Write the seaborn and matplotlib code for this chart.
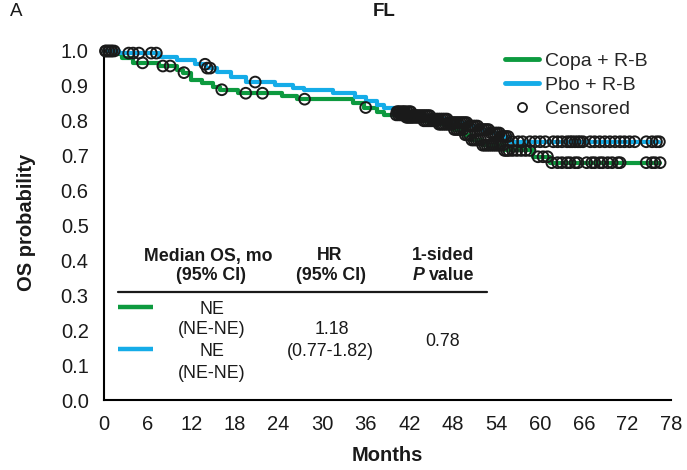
import numpy as np
import pandas as pd
import matplotlib
matplotlib.use("Agg")
import matplotlib.pyplot as plt
import seaborn as sns
from matplotlib.lines import Line2D

# Kaplan-Meier step data: event times (months) and survival after each drop
copa_times = [0, 1.5, 2.5, 4.0, 7.5, 10.0, 10.8, 12.0, 13.5, 15.0, 16.0, 18.5,
              24.5, 26.5, 34.3, 35.8, 37.5, 38.5, 41.5, 44.0, 46.0, 48.0, 49.5,
              50.5, 52.0, 55.0, 59.0, 61.3]
copa_surv = [1.0, 0.99, 0.98, 0.966, 0.957, 0.945, 0.938, 0.918, 0.908, 0.898,
             0.889, 0.879, 0.87, 0.862, 0.851, 0.838, 0.825, 0.817, 0.81, 0.80,
             0.79, 0.775, 0.76, 0.745, 0.73, 0.715, 0.697, 0.68]

pbo_times = [0, 2.0, 7.5, 10.0, 12.5, 14.0, 15.5, 17.5, 19.5, 23.5, 26.0, 27.5,
             31.5, 34.5, 36.0, 37.5, 38.5, 40.0, 42.5, 45.0, 47.5, 50.0, 51.5,
             53.0, 54.5, 55.8]
pbo_surv = [1.0, 0.994, 0.983, 0.974, 0.962, 0.951, 0.94, 0.926, 0.911, 0.903,
            0.894, 0.888, 0.879, 0.868, 0.856, 0.845, 0.837, 0.826, 0.815,
            0.805, 0.795, 0.785, 0.775, 0.765, 0.755, 0.74]

# Censoring times (months)
copa_censored = [0.3, 0.7, 1.1, 5.3, 8.1, 9.1, 11.0, 16.2, 19.5, 21.8, 27.6, 36.0,
                 40.2, 40.5, 40.8, 41.0, 41.2, 41.4, 41.6, 41.8, 42.0, 42.2, 42.4,
                 42.6, 42.9, 43.1, 43.4, 43.7, 44.0, 44.3, 44.6, 44.9, 45.2, 45.5,
                 45.8, 46.1, 46.4, 46.7, 47.0, 47.3, 47.6, 47.9, 48.2, 48.5, 48.8,
                 49.1, 49.4, 49.7, 50.0, 50.3, 50.6, 50.9, 51.2, 51.5, 51.8, 52.1,
                 52.4, 52.7, 53.0, 53.3, 53.6, 53.9, 54.2, 54.5, 54.8, 55.1, 55.4,
                 55.7, 56.2, 56.8, 57.4, 58.0, 58.6, 59.7, 60.4, 61.0, 61.6, 62.4,
                 63.0, 63.7, 64.1, 64.8, 65.2, 66.4, 67.1, 67.5, 68.2, 68.6, 69.3,
                 69.9, 70.7, 71.0, 74.6, 75.4, 75.8, 76.5]
pbo_censored = [0.2, 0.6, 1.0, 1.4, 3.4, 4.0, 4.8, 6.5, 7.2, 13.9, 14.2, 14.6,
                20.8, 40.3, 40.5, 40.7, 41.0, 41.2, 41.4, 41.7, 42.0, 42.2, 42.5,
                42.8, 43.0, 43.3, 43.6, 43.9, 44.2, 44.5, 44.8, 45.1, 45.4, 45.7,
                46.0, 46.3, 46.6, 46.9, 47.2, 47.5, 47.8, 48.1, 48.4, 48.7, 49.0,
                49.3, 49.6, 49.9, 50.2, 50.5, 50.8, 51.1, 51.4, 51.7, 52.0, 52.3,
                52.6, 52.9, 53.2, 53.5, 53.8, 54.1, 54.4, 54.7, 55.0, 55.3, 55.6,
                56.2, 57.0, 57.6, 58.6, 59.3, 60.0, 60.7, 61.8, 62.4, 63.0, 63.7,
                64.1, 64.4, 64.8, 65.2, 65.5, 65.9, 66.9, 67.5, 68.2, 68.9, 69.6,
                70.3, 71.0, 71.6, 72.3, 73.0, 74.6, 75.4, 76.0, 76.4]

arm_labels = ["Copa + R-B", "Pbo + R-B"]
arm_colors = ["#0d9a3f", "#15ace8"]
censor_label = "Censored"

x_ticks = list(range(0, 79, 6))
y_ticks = [0.0, 0.1, 0.2, 0.3, 0.4, 0.5, 0.6, 0.7, 0.8, 0.9, 1.0]

# Summary table
table_headers = [["Median OS, mo", "(95% CI)"], ["HR", "(95% CI)"]]
median_os = [["NE", "(NE-NE)"], ["NE", "(NE-NE)"]]
hazard_ratio = ["1.18", "(0.77-1.82)"]
p_value = "0.78"


def step_frame(times, surv, censored, arm):
    end = max(censored)
    t = list(times) + [end]
    s = list(surv) + [surv[-1]]
    return pd.DataFrame({"time": t, "surv": s, "arm": arm})


def censor_frame(times, surv, censored, arm):
    idx = np.searchsorted(np.asarray(times), np.asarray(censored), side="right") - 1
    return pd.DataFrame({"time": censored, "surv": np.asarray(surv)[idx], "arm": arm})


steps = pd.concat([step_frame(copa_times, copa_surv, copa_censored, arm_labels[0]),
                   step_frame(pbo_times, pbo_surv, pbo_censored, arm_labels[1])])
cens = pd.concat([censor_frame(copa_times, copa_surv, copa_censored, arm_labels[0]),
                  censor_frame(pbo_times, pbo_surv, pbo_censored, arm_labels[1])])

sns.set_style("white")
plt.rcParams["font.family"] = ["Liberation Sans", "DejaVu Sans"]
narrow = ["Liberation Sans Narrow", "Liberation Sans", "DejaVu Sans"]

fig = plt.figure(figsize=(6.87, 4.70), dpi=100)
ax = fig.add_axes([104 / 687, 1 - 400 / 470, 567 / 687, 349 / 470])

sns.lineplot(data=steps, x="time", y="surv", hue="arm", hue_order=arm_labels,
             palette=arm_colors, estimator=None, drawstyle="steps-post",
             linewidth=3.0, legend=False, ax=ax)
for line in ax.lines:
    line.set_clip_on(False)

sns.scatterplot(data=cens, x="time", y="surv", marker="o", s=60,
                facecolor="none", edgecolor="#1a1a1a", linewidth=1.4,
                legend=False, ax=ax, zorder=5, clip_on=False)

ax.set_xlim(0, 78)
ax.set_ylim(0, 1.0)
ax.set_xticks(x_ticks)
ax.set_yticks(y_ticks)
ax.set_xticklabels([str(t) for t in x_ticks], family=narrow, fontsize=14.5)
ax.set_yticklabels([f"{v:.1f}" for v in y_ticks], family=narrow, fontsize=14.5)
ax.tick_params(axis="both", direction="out", length=6, width=1.5, color="black",
               pad=5, labelcolor="#1a1a1a")
sns.despine(ax=ax)
for side in ("left", "bottom"):
    ax.spines[side].set_linewidth(1.5)
    ax.spines[side].set_color("black")

ax.set_xlabel("Months", fontsize=14.5, fontweight="bold", color="#1a1a1a")
ax.set_ylabel("OS probability", fontsize=14.5, fontweight="bold", color="#1a1a1a")
ax.xaxis.set_label_coords(0.499, -0.132)
ax.yaxis.set_label_coords(-0.12, 0.51)

fig.text(384 / 687, 1 - 12 / 470, "FL", ha="center", va="center",
         fontsize=13.5, fontweight="bold", color="#1a1a1a")
fig.text(10 / 687, 1 - 12 / 470, "A", ha="left", va="center",
         fontsize=13.5, color="#1a1a1a")

# Legend
handles = [Line2D([], [], color=arm_colors[0], lw=3.5),
           Line2D([], [], color=arm_colors[1], lw=3.5),
           Line2D([], [], ls="none", marker="o", markersize=6.5,
                  markerfacecolor="none", markeredgecolor="#1a1a1a",
                  markeredgewidth=1.3)]
fig.legend(handles, arm_labels + [censor_label], loc="upper left",
           bbox_to_anchor=(505 / 687, 1 - 52 / 470), frameon=False,
           fontsize=14, handlelength=1.75, handletextpad=0.3,
           labelspacing=0.34, borderpad=0, borderaxespad=0)


def axpos(px, py):
    return (px - 104) / 567, (400 - py) / 349


def put(px, py, s, **kw):
    x, y = axpos(px, py)
    ax.text(x, y, s, transform=ax.transAxes, ha="center", va="center",
            color="#1a1a1a", **kw)


fs = 12.8
hdr = dict(fontsize=fs, fontweight="bold")
put(208, 256, table_headers[0][0], **hdr)
put(211, 276, table_headers[0][1], **hdr)
put(330, 256, table_headers[1][0], **hdr)
put(331, 276, table_headers[1][1], **hdr)
put(443, 256, "1-sided", **hdr)
xp, yp = axpos(425, 276)
ax.text(xp, yp, "P", transform=ax.transAxes, ha="right", va="center",
        fontsize=fs, fontweight="bold", fontstyle="italic", color="#1a1a1a")
xv, _ = axpos(429, 276)
ax.text(xv, yp, "value", transform=ax.transAxes, ha="left", va="center",
        fontsize=fs, fontweight="bold", color="#1a1a1a")

x0, yl = axpos(118, 292)
x1, _ = axpos(487, 292)
ax.plot([x0, x1], [yl, yl], transform=ax.transAxes, color="#1a1a1a", lw=1.6,
        clip_on=False)
for color, py in zip(arm_colors, [307, 349]):
    a, yy = axpos(118, py)
    b, _ = axpos(153, py)
    ax.plot([a, b], [yy, yy], transform=ax.transAxes, color=color, lw=3.2,
            clip_on=False, solid_capstyle="butt")

body = dict(fontsize=fs)
put(212, 309, median_os[0][0], **body)
put(212, 330, median_os[0][1], **body)
put(212, 352, median_os[1][0], **body)
put(212, 373, median_os[1][1], **body)
put(332, 330, hazard_ratio[0], **body)
put(330, 352, hazard_ratio[1], **body)
put(443, 341, p_value, **body)

fig.savefig("out.png", dpi=100)
